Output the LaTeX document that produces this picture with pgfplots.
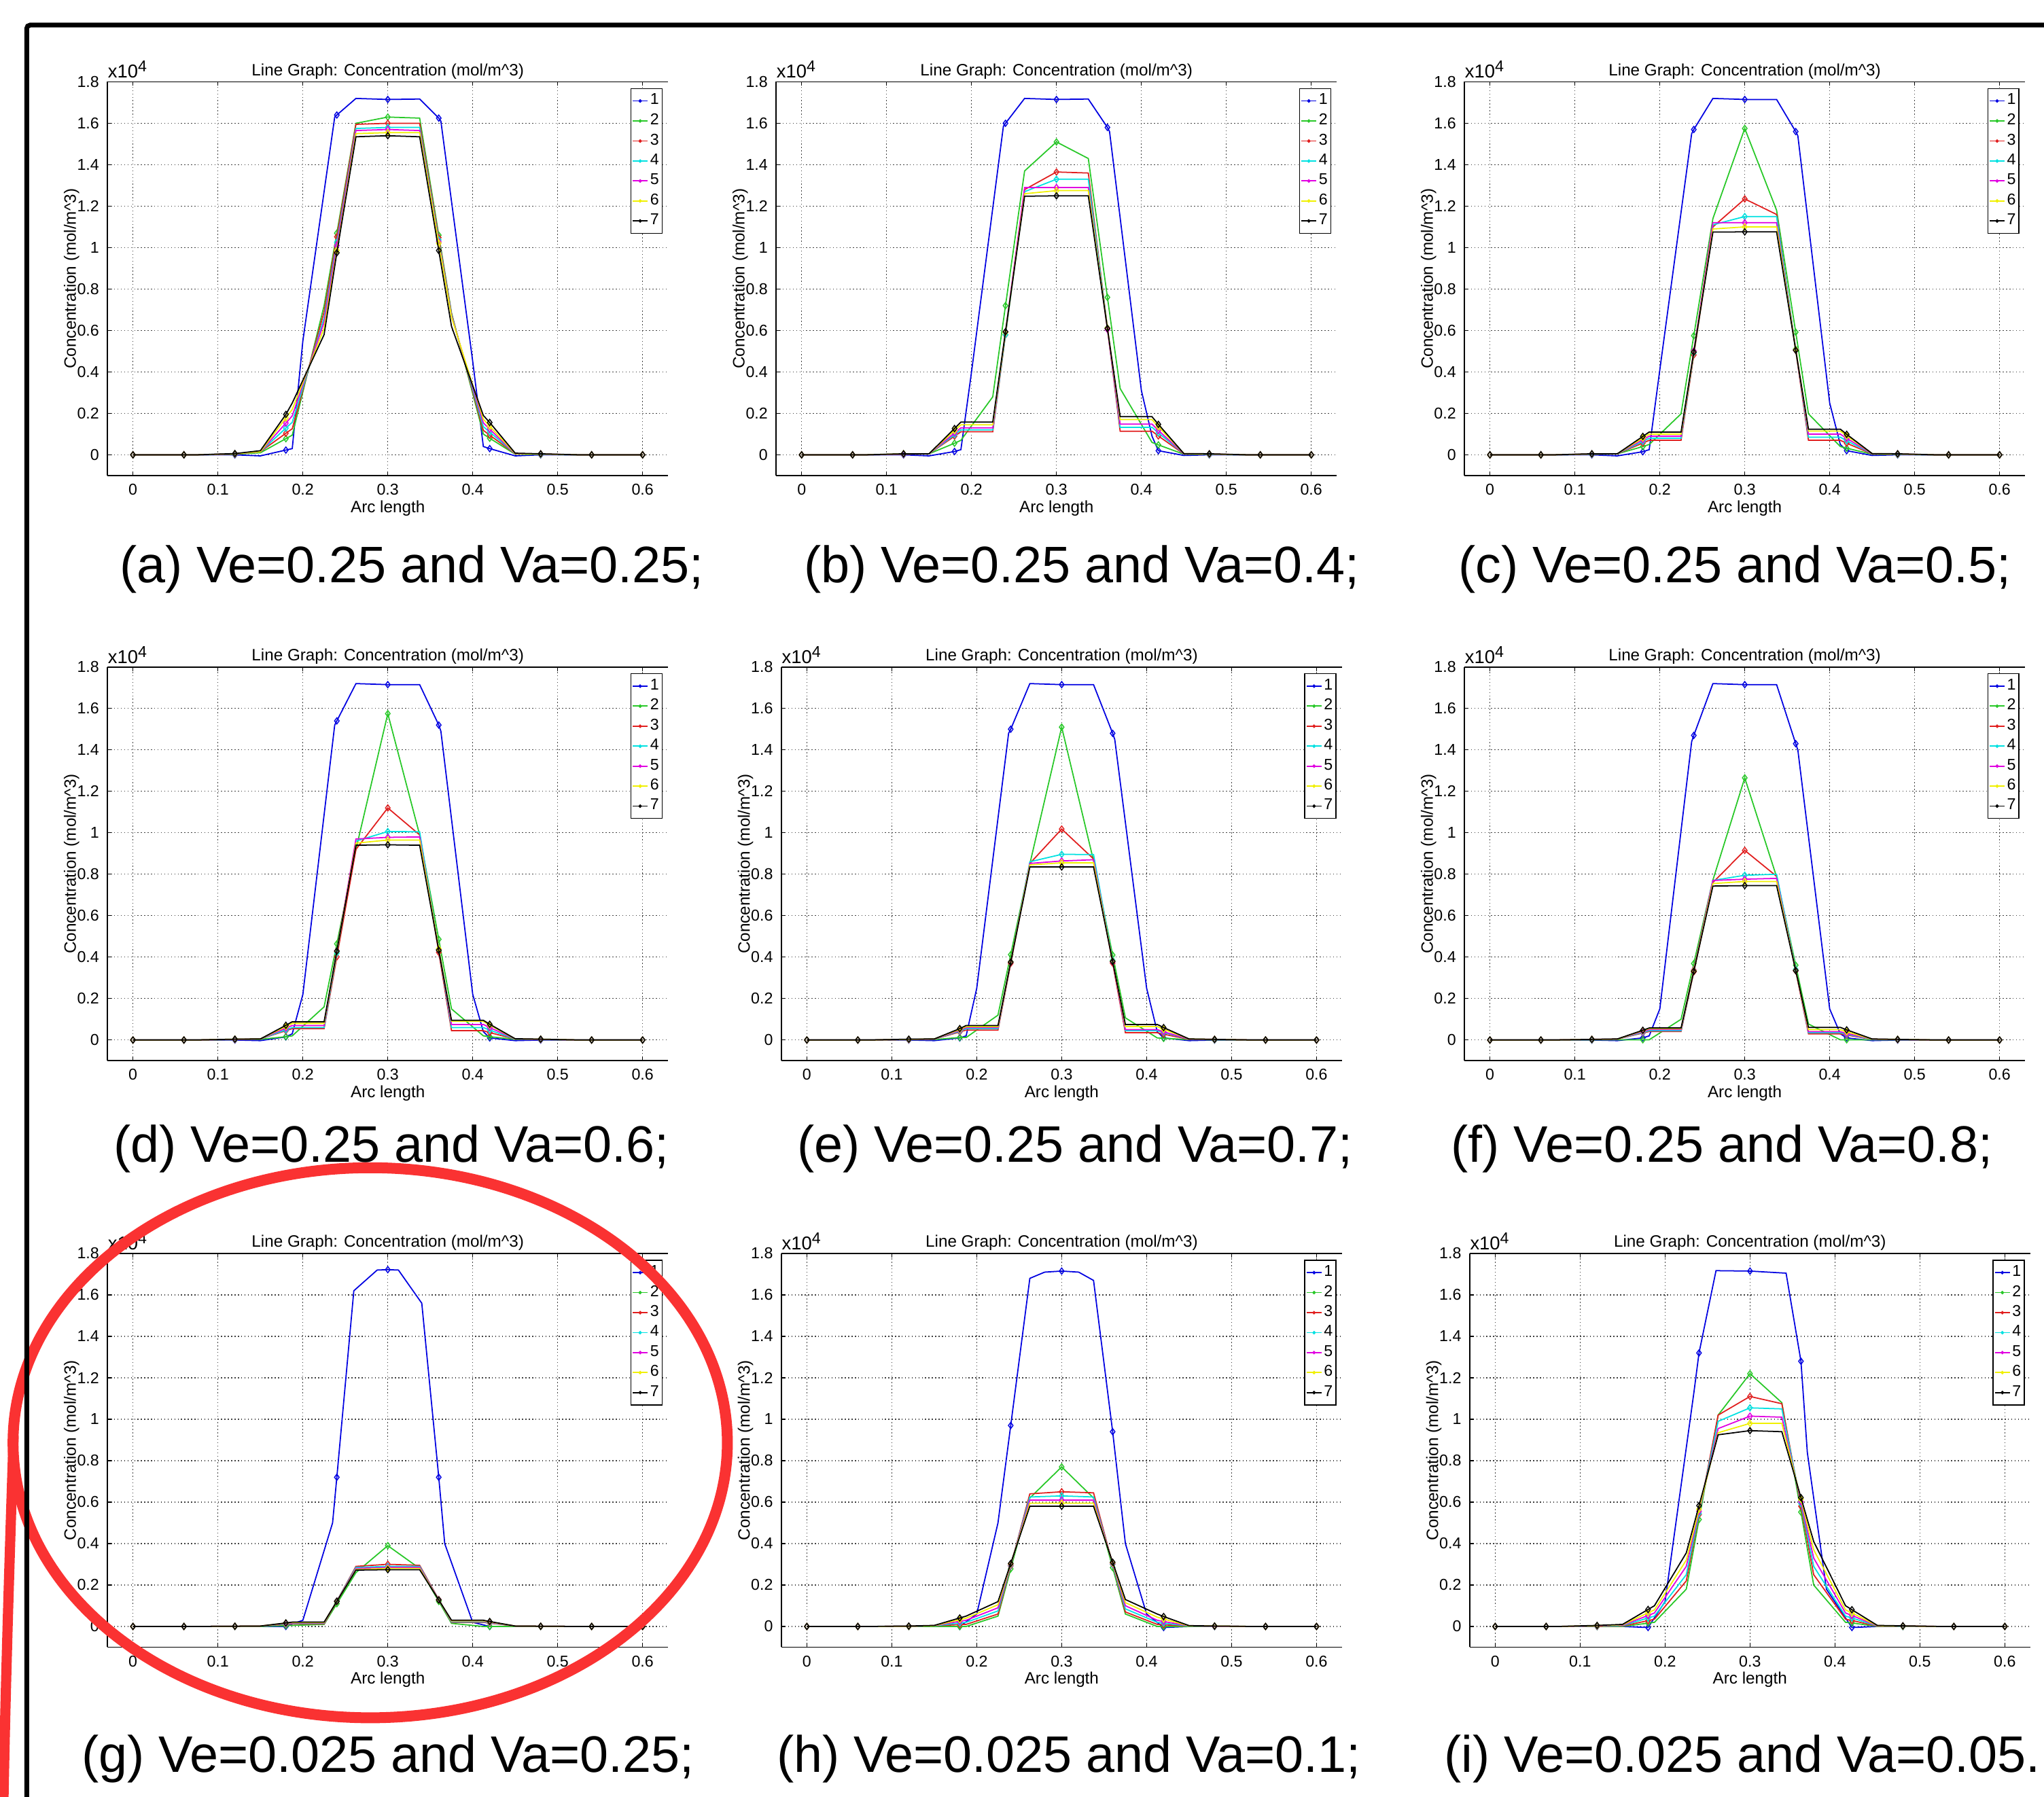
\documentclass[border=0pt]{standalone}
\usepackage{fontspec}
\setmainfont{Liberation Sans}
\usepackage{pgfplots}
\usepackage{pgfplotstable}
\pgfplotsset{compat=1.18}

\definecolor{c1}{RGB}{0,0,225}
\definecolor{c2}{RGB}{40,200,40}
\definecolor{c3}{RGB}{225,30,30}
\definecolor{c4}{RGB}{0,225,225}
\definecolor{c5}{RGB}{225,0,225}
\definecolor{c6}{RGB}{240,240,0}
\definecolor{c7}{RGB}{0,0,0}
\definecolor{penred}{RGB}{250,50,50}

% concentration profiles, mol/m^3; m=1 marks the rows that carry a marker
\pgfplotstableread{
x m y
0 1 0
0.06 1 0
0.12 1 0
0.15 0 -50
0.18 1 230
0.1875 0 300
0.2 0 5500
0.2375 0 16300
0.24 1 16400
0.2625 0 17200
0.3 1 17150
0.3375 0 17170
0.36 1 16250
0.3625 0 16100
0.4 0 4500
0.4125 0 400
0.42 1 300
0.45 0 -50
0.48 1 0
0.54 1 0
0.6 1 0
}\blueA
\pgfplotstableread{
x m y
0 1 0
0.06 1 0
0.12 1 0
0.15 0 -50
0.18 1 160
0.1875 0 250
0.2 0 4000
0.2375 0 15850
0.24 1 16000
0.2625 0 17200
0.3 1 17150
0.3375 0 17170
0.36 1 15800
0.3625 0 15600
0.4 0 3100
0.4125 0 900
0.42 1 200
0.45 0 -30
0.48 1 0
0.54 1 0
0.6 1 0
}\blueB
\pgfplotstableread{
x m y
0 1 0
0.06 1 0
0.12 1 0
0.15 0 -50
0.18 1 150
0.1875 0 250
0.2 0 4100
0.2375 0 15500
0.24 1 15700
0.2625 0 17200
0.3 1 17150
0.3375 0 17150
0.36 1 15600
0.3625 0 15400
0.4 0 2500
0.4125 0 500
0.42 1 200
0.45 0 -30
0.48 1 0
0.54 1 0
0.6 1 0
}\blueC
\pgfplotstableread{
x m y
0 1 0
0.06 1 0
0.12 1 0
0.15 0 -30
0.18 1 150
0.1875 0 300
0.2 0 2200
0.2375 0 15200
0.24 1 15400
0.2625 0 17200
0.3 1 17150
0.3375 0 17150
0.36 1 15200
0.3625 0 14900
0.4 0 2200
0.4125 0 400
0.42 1 100
0.45 0 -30
0.48 1 0
0.54 1 0
0.6 1 0
}\blueD
\pgfplotstableread{
x m y
0 1 0
0.06 1 0
0.12 1 0
0.15 0 -30
0.18 1 100
0.1875 0 200
0.2 0 2500
0.2375 0 14800
0.24 1 15000
0.2625 0 17200
0.3 1 17150
0.3375 0 17150
0.36 1 14800
0.3625 0 14500
0.4 0 2500
0.4125 0 400
0.42 1 100
0.45 0 -30
0.48 1 0
0.54 1 0
0.6 1 0
}\blueE
\pgfplotstableread{
x m y
0 1 0
0.06 1 0
0.12 1 0
0.15 0 -30
0.18 1 100
0.1875 0 200
0.2 0 1500
0.2375 0 14400
0.24 1 14700
0.2625 0 17200
0.3 1 17150
0.3375 0 17150
0.36 1 14300
0.3625 0 14000
0.4 0 1500
0.4125 0 300
0.42 1 100
0.45 0 -30
0.48 1 0
0.54 1 0
0.6 1 0
}\blueF
\pgfplotstableread{
x m y
0 1 0
0.06 1 0
0.12 1 0
0.18 1 0
0.2 0 300
0.235 0 5000
0.24 1 7200
0.26 0 16200
0.2875 0 17200
0.3 1 17220
0.3125 0 17200
0.34 0 15600
0.36 1 7200
0.367 0 4000
0.4 0 200
0.42 1 0
0.48 1 0
0.54 1 0
0.6 1 0
}\blueG
\pgfplotstableread{
x m y
0 1 0
0.06 1 0
0.12 1 0
0.18 1 0
0.2 0 600
0.225 0 5000
0.24 1 9700
0.2625 0 16800
0.28 0 17100
0.3 1 17150
0.32 0 17100
0.3375 0 16700
0.36 1 9400
0.375 0 4000
0.4 0 600
0.42 1 -50
0.45 0 0
0.48 1 0
0.54 1 0
0.6 1 0
}\blueH
\pgfplotstableread{
x m y
0 1 0
0.06 1 0
0.12 1 0
0.15 0 0
0.18 1 -50
0.2 0 1200
0.234 0 11300
0.24 1 13200
0.26 0 17170
0.3 1 17150
0.3425 0 17050
0.36 1 12800
0.3675 0 8400
0.39 0 1800
0.42 1 -50
0.45 0 0
0.48 1 0
0.54 1 0
0.6 1 0
}\blueI

\pgfplotstableread{
x m s2 s3 s4 s5 s6 s7
0 1 0 0 0 0 0 0
0.06 1 0 0 0 0 0 0
0.075 0 0 0 0 0 0 0
0.12 1 30 40 50 50 50 60
0.15 0 100 150 150 150 150 200
0.18 1 780 1040 1290 1530 1780 1950
0.1875 0 950 1260 1570 1880 2190 2500
0.225 0 7200 6900 6600 6400 6100 5800
0.24 1 10700 10520 10260 10100 9860 9750
0.2625 0 16000 15950 15750 15650 15500 15350
0.3 1 16300 16000 15800 15700 15550 15400
0.3375 0 16250 16000 15800 15650 15550 15350
0.36 1 10600 10480 10370 10280 10210 9860
0.375 0 6850 6800 6750 6700 6650 6200
0.4125 0 1000 1180 1360 1540 1720 1900
0.42 1 800 950 1100 1240 1380 1560
0.45 0 30 50 50 50 60 80
0.48 1 20 30 30 40 40 50
0.525 0 0 0 0 0 0 0
0.54 1 0 0 0 0 0 0
0.6 1 0 0 0 0 0 0
}\restA
\pgfplotstableread{
x m s2 s3 s4 s5 s6 s7
0 1 0 0 0 0 0 0
0.06 1 0 0 0 0 0 0
0.075 0 0 0 0 0 0 0
0.12 1 30 30 40 40 50 50
0.15 0 50 50 50 50 50 50
0.18 1 560 900 970 1050 1170 1270
0.1875 0 700 1110 1200 1300 1450 1580
0.225 0 2800 1110 1200 1300 1450 1580
0.24 1 7200 5790 5800 5940 5910 5940
0.2625 0 13700 12800 12700 12900 12600 12480
0.3 1 15100 13650 13300 12900 12750 12500
0.3375 0 14300 13600 13300 12900 12750 12500
0.36 1 7600 6120 6120 6050 6120 6100
0.375 0 3200 1140 1330 1480 1700 1840
0.4125 0 600 1140 1330 1480 1700 1840
0.42 1 480 910 1060 1180 1360 1470
0.45 0 30 40 50 50 60 60
0.48 1 20 30 30 40 40 50
0.525 0 0 0 0 0 0 0
0.54 1 0 0 0 0 0 0
0.6 1 0 0 0 0 0 0
}\restB
\pgfplotstableread{
x m s2 s3 s4 s5 s6 s7
0 1 0 0 0 0 0 0
0.06 1 0 0 0 0 0 0
0.075 0 0 0 0 0 0 0
0.12 1 30 30 30 40 40 50
0.15 0 50 50 50 50 50 50
0.18 1 400 570 650 730 810 890
0.1875 0 500 700 800 900 1000 1100
0.225 0 1980 700 800 900 1000 1100
0.24 1 5750 4820 4920 5020 4960 4960
0.2625 0 11400 11000 11100 11200 10900 10750
0.3 1 15750 12350 11500 11200 11000 10760
0.3375 0 11800 11600 11500 11200 11000 10760
0.36 1 5920 5050 5110 5080 5090 5050
0.375 0 1980 700 850 1000 1150 1240
0.4125 0 400 700 850 1000 1150 1240
0.42 1 320 560 680 800 920 990
0.45 0 30 40 50 50 60 60
0.48 1 20 30 30 40 40 50
0.525 0 0 0 0 0 0 0
0.54 1 0 0 0 0 0 0
0.6 1 0 0 0 0 0 0
}\restC
\pgfplotstableread{
x m s2 s3 s4 s5 s6 s7
0 1 0 0 0 0 0 0
0.06 1 0 0 0 0 0 0
0.075 0 0 0 0 0 0 0
0.12 1 20 30 30 30 40 40
0.15 0 30 50 50 50 50 50
0.18 1 160 450 490 570 650 710
0.1875 0 200 550 600 700 800 880
0.225 0 1600 550 600 700 800 880
0.24 1 4640 4010 4200 4300 4280 4290
0.2625 0 9200 9200 9600 9700 9500 9400
0.3 1 15750 11200 10060 9780 9650 9420
0.3375 0 9900 9900 10050 9800 9650 9400
0.36 1 4860 4230 4380 4370 4400 4330
0.375 0 1500 450 600 750 900 950
0.4125 0 200 450 600 750 900 950
0.42 1 160 360 480 600 720 760
0.45 0 30 40 40 50 50 60
0.48 1 20 30 30 30 40 40
0.525 0 0 0 0 0 0 0
0.54 1 0 0 0 0 0 0
0.6 1 0 0 0 0 0 0
}\restD
\pgfplotstableread{
x m s2 s3 s4 s5 s6 s7
0 1 0 0 0 0 0 0
0.06 1 0 0 0 0 0 0
0.075 0 0 0 0 0 0 0
0.12 1 20 20 30 30 30 40
0.15 0 20 40 40 40 50 50
0.18 1 120 390 430 470 510 550
0.1875 0 120 480 550 600 650 700
0.225 0 1200 480 550 600 650 700
0.24 1 4120 3700 3770 3760 3770 3760
0.2625 0 8500 8520 8600 8520 8450 8350
0.3 1 15100 10180 8960 8640 8550 8350
0.3375 0 8650 8740 8950 8700 8550 8350
0.36 1 4100 3710 3850 3780 3810 3790
0.375 0 1070 350 450 500 650 750
0.4125 0 100 350 450 500 650 750
0.42 1 80 280 360 400 520 600
0.45 0 20 30 40 40 50 50
0.48 1 10 20 20 30 30 30
0.525 0 0 0 0 0 0 0
0.54 1 0 0 0 0 0 0
0.6 1 0 0 0 0 0 0
}\restE
\pgfplotstableread{
x m s2 s3 s4 s5 s6 s7
0 1 0 0 0 0 0 0
0.06 1 0 0 0 0 0 0
0.075 0 0 0 0 0 0 0
0.12 1 10 20 20 30 30 30
0.15 0 10 40 40 40 40 50
0.18 1 10 340 370 410 450 470
0.1875 0 10 410 450 500 550 580
0.225 0 1000 410 450 500 550 580
0.24 1 3690 3290 3350 3380 3350 3320
0.2625 0 7720 7600 7700 7700 7550 7430
0.3 1 12650 9150 7950 7760 7650 7450
0.3375 0 7870 7900 8000 7800 7650 7450
0.36 1 3610 3340 3410 3360 3360 3350
0.375 0 770 300 350 400 500 610
0.4125 0 10 300 350 400 500 610
0.42 1 10 240 280 320 400 490
0.45 0 10 30 30 40 40 50
0.48 1 10 20 20 20 30 30
0.525 0 0 0 0 0 0 0
0.54 1 0 0 0 0 0 0
0.6 1 0 0 0 0 0 0
}\restF
\pgfplotstableread{
x m s2 s3 s4 s5 s6 s7
0 1 0 0 0 0 0 0
0.06 1 0 0 0 0 0 0
0.075 0 0 0 0 0 0 0
0.12 1 0 10 10 10 10 10
0.15 0 0 20 20 20 20 20
0.18 1 40 100 120 140 160 170
0.1875 0 50 120 150 170 190 210
0.225 0 100 120 150 170 190 210
0.24 1 1100 1230 1230 1220 1210 1210
0.2625 0 2600 2900 2850 2800 2750 2720
0.3 1 3900 3000 2900 2850 2800 2740
0.3375 0 2800 2950 2900 2850 2800 2740
0.36 1 1210 1300 1290 1290 1280 1280
0.375 0 150 200 220 250 270 300
0.4125 0 0 200 220 250 270 300
0.42 1 0 160 180 200 220 240
0.45 0 0 20 20 20 20 20
0.48 1 0 10 10 10 10 10
0.525 0 0 0 0 0 0 0
0.54 1 0 0 0 0 0 0
0.6 1 0 0 0 0 0 0
}\restG
\pgfplotstableread{
x m s2 s3 s4 s5 s6 s7
0 1 0 0 0 0 0 0
0.06 1 0 0 0 0 0 0
0.075 0 0 0 0 0 0 0
0.12 1 0 10 10 10 10 20
0.15 0 0 30 30 40 40 50
0.18 1 0 90 170 250 330 410
0.1875 0 0 100 200 300 400 500
0.225 0 500 600 750 900 1050 1200
0.24 1 2780 2920 2950 2980 3010 3040
0.2625 0 6200 6400 6250 6100 5950 5800
0.3 1 7700 6500 6300 6100 5950 5800
0.3375 0 6200 6450 6250 6100 5950 5800
0.36 1 2840 3000 3010 3040 3070 3100
0.375 0 600 700 850 1000 1150 1300
0.4125 0 0 100 200 300 450 600
0.42 1 0 80 160 240 360 480
0.45 0 0 20 20 30 30 40
0.48 1 0 10 10 10 20 20
0.525 0 0 0 0 0 0 0
0.54 1 0 0 0 0 0 0
0.6 1 0 0 0 0 0 0
}\restH
\pgfplotstableread{
x m s2 s3 s4 s5 s6 s7
0 1 0 0 0 0 0 0
0.06 1 0 0 0 0 0 0
0.075 0 0 0 0 0 0 0
0.12 1 0 10 20 30 40 50
0.15 0 0 20 40 60 80 100
0.18 1 160 280 410 530 660 820
0.1875 0 200 350 500 650 800 1000
0.225 0 1800 2200 2500 2900 3200 3550
0.24 1 5160 5400 5460 5560 5660 5830
0.2625 0 10200 10200 9900 9550 9350 9250
0.3 1 12200 11100 10550 10150 9800 9450
0.3375 0 10800 10750 10500 10100 9800 9400
0.36 1 5520 5800 5940 6020 6140 6220
0.375 0 2000 2500 2900 3300 3700 4100
0.4125 0 200 350 500 650 800 1000
0.42 1 170 290 410 530 650 810
0.45 0 0 10 20 30 40 50
0.48 1 0 10 10 20 20 30
0.525 0 0 0 0 0 0 0
0.54 1 0 0 0 0 0 0
0.6 1 0 0 0 0 0 0
}\restI

\pgfplotsset{
  cmark/.style={only marks, mark=diamond, mark size=1.3pt,
    mark options={solid, line width=0.4pt}, forget plot,
    restrict expr to domain={\thisrow{m}}{1:1}},
  panel/.style={
    scale only axis, width=8.25cm, height=5.795cm, anchor=south west,
    xmin=-0.03, xmax=0.63, ymin=-1000, ymax=18000,
    clip mode=individual,
    separate axis lines, axis x line*=box, axis y line*=left,
    axis line style={black, line width=0.5pt},
    xtick={0,0.1,0.2,0.3,0.4,0.5,0.6},
    xticklabels={0,0.1,0.2,0.3,0.4,0.5,0.6},
    ytick={0,2000,4000,6000,8000,10000,12000,14000,16000,18000},
    yticklabels={0,0.2,0.4,0.6,0.8,1,1.2,1.4,1.6,1.8},
    scaled y ticks=false, scaled x ticks=false,
    tick align=inside, major tick length=0.06cm,
    tick style={black, line width=0.4pt},
    grid=major, major grid style={black!75, densely dotted, line width=0.35pt},
    tick label style={font=\fontsize{6.6}{7}\selectfont},
    every axis plot/.append style={line width=0.5pt},
    every axis title shift=0pt,
    title={Line Graph: Concentration (mol/m\textasciicircum 3)},
    title style={at={(axis description cs:0.5,1.016)}, anchor=base,
      inner sep=0pt, font=\fontsize{6.9}{8}\selectfont},
    xlabel={Arc length},
    xlabel style={at={(axis description cs:0.5,-0.083)}, anchor=center,
      font=\fontsize{6.9}{8}\selectfont},
    ylabel={Concentration (mol/m\textasciicircum 3)},
    ylabel style={at={(axis description cs:-0.064,0.5)}, anchor=center,
      font=\fontsize{6.9}{8}\selectfont},
    legend entries={1,2,3,4,5,6,7},
    legend style={at={(0.99,0.984)}, anchor=north east, draw=black,
      line width=0.4pt, fill=white, font=\fontsize{6.6}{7}\selectfont,
      inner xsep=0.5pt, inner ysep=1pt, row sep=0pt,
      nodes={inner xsep=0.8pt, inner ysep=1.15pt}, cells={anchor=west}},
    legend image code/.code={\draw[mark repeat=2, mark phase=2, ##1, mark=*,
      mark size=0.45pt] plot coordinates {(0cm,0cm) (0.11cm,0cm) (0.22cm,0cm)};},
  },
}

\newcommand{\drawpanel}[2]{%
  \addplot[c1, mark=none] table[x=x, y=y] {#1};
  \addplot[c1, cmark] table[x=x, y=y] {#1};
  \addplot[c2, mark=none] table[x=x, y=s2] {#2};
  \addplot[c2, cmark] table[x=x, y=s2] {#2};
  \addplot[c3, mark=none] table[x=x, y=s3] {#2};
  \addplot[c3, cmark] table[x=x, y=s3] {#2};
  \addplot[c4, mark=none] table[x=x, y=s4] {#2};
  \addplot[c4, cmark] table[x=x, y=s4] {#2};
  \addplot[c5, mark=none] table[x=x, y=s5] {#2};
  \addplot[c5, cmark] table[x=x, y=s5] {#2};
  \addplot[c6, mark=none] table[x=x, y=s6] {#2};
  \addplot[c6, cmark] table[x=x, y=s6] {#2};
  \addplot[c7, mark=none] table[x=x, y=s7] {#2};
  \addplot[c7, cmark] table[x=x, y=s7] {#2};
  \node[anchor=base west, inner sep=0pt, yshift=0.055cm,
    font=\fontsize{7.8}{8}\selectfont] at (rel axis cs:0,1)
    {x10{\fontsize{6.6}{7}\selectfont\raisebox{0.75ex}{4}}};
}

\newcommand{\capfont}{\fontsize{21.5}{24}\selectfont}

\begin{document}
\begin{tikzpicture}
\useasboundingbox (0,0) rectangle (30.08,26.45);

\begin{axis}[panel, at={(1.582cm,19.45cm)}] \drawpanel{\blueA}{\restA} \end{axis}
\begin{axis}[panel, at={(11.422cm,19.45cm)}] \drawpanel{\blueB}{\restB} \end{axis}
\begin{axis}[panel, at={(21.551cm,19.45cm)}] \drawpanel{\blueC}{\restC} \end{axis}
\begin{axis}[panel, at={(1.582cm,10.837cm)}] \drawpanel{\blueD}{\restD} \end{axis}
\begin{axis}[panel, at={(11.499cm,10.837cm)}] \drawpanel{\blueE}{\restE} \end{axis}
\begin{axis}[panel, at={(21.551cm,10.837cm)}] \drawpanel{\blueF}{\restF} \end{axis}
\begin{axis}[panel, at={(1.582cm,2.205cm)}] \drawpanel{\blueG}{\restG} \end{axis}
\begin{axis}[panel, at={(11.499cm,2.205cm)}] \drawpanel{\blueH}{\restH} \end{axis}
\begin{axis}[panel, at={(21.628cm,2.205cm)}] \drawpanel{\blueI}{\restI} \end{axis}

\node[anchor=base, font=\capfont] at (6.06,17.875) {(a) Ve=0.25 and Va=0.25;};
\node[anchor=base, font=\capfont] at (15.92,17.875) {(b) Ve=0.25 and Va=0.4;};
\node[anchor=base, font=\capfont] at (25.53,17.875) {(c) Ve=0.25 and Va=0.5;};
\node[anchor=base, font=\capfont] at (5.76,9.34) {(d) Ve=0.25 and Va=0.6;};
\node[anchor=base, font=\capfont] at (15.82,9.34) {(e) Ve=0.25 and Va=0.7;};
\node[anchor=base, font=\capfont] at (25.34,9.34) {(f) Ve=0.25 and Va=0.8;};
\node[anchor=base, font=\capfont] at (5.71,0.36) {(g) Ve=0.025 and Va=0.25;};
\node[anchor=base, font=\capfont] at (15.73,0.36) {(h) Ve=0.025 and Va=0.1;};
\node[anchor=base, font=\capfont] at (25.64,0.36) {(i) Ve=0.025 and Va=0.05.};

\draw[penred, line width=0.16cm] (5.448,5.214) ellipse [x radius=5.256cm, y radius=4.048cm];
\draw[penred, line width=0.15cm, line cap=round] (0.2,5.3) .. controls (0.14,3.5) and (0.08,1.6) .. (0.05,-0.1);
\draw[black, line width=0.07cm, rounded corners=0.05cm] (0.393,-0.1) -- (0.393,26.08) -- (30.2,26.08);
\end{tikzpicture}
\end{document}
